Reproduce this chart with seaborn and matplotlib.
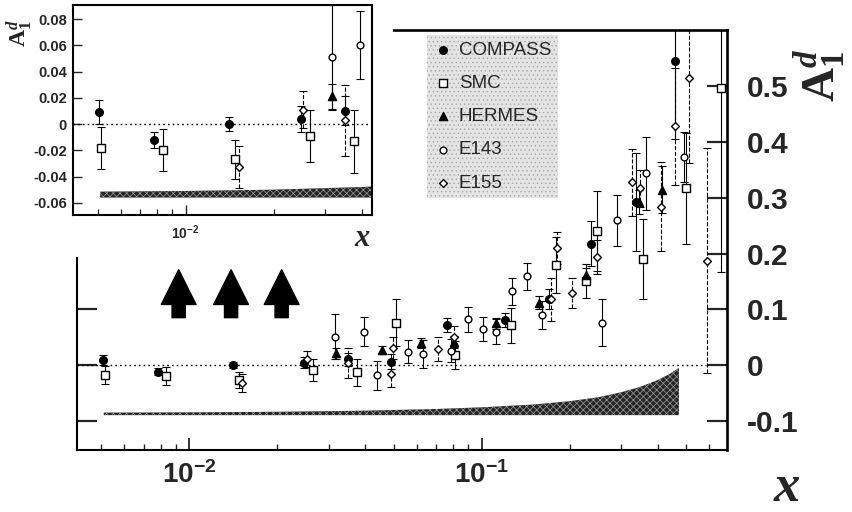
import numpy as np
import pandas as pd
import matplotlib
matplotlib.use("Agg")
import matplotlib.pyplot as plt
import seaborn as sns
from matplotlib.patches import Rectangle
from matplotlib.ticker import LogLocator, FixedLocator, FixedFormatter, NullFormatter, FuncFormatter

# ---------------- data ----------------
compass_x = [0.00505, 0.0078, 0.0141, 0.0247, 0.0350, 0.0489, 0.0763, 0.1205, 0.170, 0.237, 0.338, 0.460]
compass_y = [0.009, -0.012, 0.000, 0.004, 0.010, 0.006, 0.072, 0.081, 0.118, 0.218, 0.293, 0.545]
compass_e = [0.009, 0.006, 0.005, 0.010, 0.011, 0.013, 0.012, 0.013, 0.018, 0.040, 0.088, 0.140]

smc_x = [0.00514, 0.00835, 0.01476, 0.0265, 0.0376, 0.0511, 0.0808, 0.1264, 0.1797, 0.228, 0.2487, 0.3552, 0.4993, 0.658]
smc_y = [-0.018, -0.020, -0.027, -0.009, -0.013, 0.076, 0.018, 0.071, 0.180, 0.151, 0.240, 0.190, 0.317, 0.497]
smc_e = [0.016, 0.016, 0.015, 0.020, 0.024, 0.042, 0.025, 0.031, 0.050, 0.030, 0.072, 0.072, 0.100, 0.330]

hermes_x = [0.0317, 0.0457, 0.0618, 0.0803, 0.112, 0.157, 0.2277, 0.3464, 0.4139]
hermes_y = [0.021, 0.027, 0.039, 0.042, 0.075, 0.112, 0.162, 0.293, 0.315]
hermes_e = [0.0095, 0.007, 0.009, 0.010, 0.010, 0.012, 0.013, 0.022, 0.042]

e143_x = [0.0315, 0.0395, 0.0437, 0.0561, 0.0632, 0.0788, 0.0899, 0.1008, 0.112, 0.1274, 0.1433, 0.161, 0.259, 0.2893, 0.3636, 0.4928]
e143_y = [0.051, 0.060, -0.018, 0.024, 0.020, 0.026, 0.082, 0.065, 0.060, 0.132, 0.159, 0.090, 0.076, 0.260, 0.344, 0.374]
e143_e = [0.040, 0.026, 0.026, 0.021, 0.025, 0.020, 0.023, 0.022, 0.022, 0.025, 0.024, 0.025, 0.042, 0.046, 0.066, 0.045]

e155_x = [0.0152, 0.0252, 0.0349, 0.0491, 0.0498, 0.0711, 0.0804, 0.173, 0.181, 0.204, 0.2487, 0.3278, 0.3468, 0.4107, 0.4598, 0.5112, 0.5882]
e155_y = [-0.033, 0.011, 0.003, -0.017, 0.030, 0.029, 0.050, 0.118, 0.210, 0.129, 0.194, 0.328, 0.317, 0.284, 0.429, 0.515, 0.187]
e155_e = [0.016, 0.014, 0.027, 0.023, 0.020, 0.022, 0.020, 0.039, 0.028, 0.027, 0.030, 0.060, 0.033, 0.080, 0.105, 0.153, 0.202]

# systematic error band
sys_x = [0.0051, 0.01, 0.02, 0.04, 0.07, 0.1, 0.15, 0.2, 0.25, 0.3, 0.35, 0.4, 0.44, 0.473]
sys_err = [0.0045, 0.005, 0.006, 0.008, 0.011, 0.014, 0.019, 0.025, 0.032, 0.041, 0.051, 0.063, 0.074, 0.085]
sys_base_main = -0.09
sys_base_inset = -0.056

# annotation arrows
arrow_x = [0.0092, 0.0139, 0.0207]

main_yticks = [-0.1, 0.0, 0.1, 0.2, 0.3, 0.4, 0.5]
main_ylabels = ["-0.1", "0", "0.1", "0.2", "0.3", "0.4", "0.5"]
inset_yticks = [-0.06, -0.04, -0.02, 0.0, 0.02, 0.04, 0.06, 0.08]
inset_ylabels = ["-0.06", "-0.04", "-0.02", "0", "0.02", "0.04", "0.06", "0.08"]

experiments = ["COMPASS", "SMC", "HERMES", "E143", "E155"]
frames = []
for name, xs, ys, es in [("COMPASS", compass_x, compass_y, compass_e),
                         ("SMC", smc_x, smc_y, smc_e),
                         ("HERMES", hermes_x, hermes_y, hermes_e),
                         ("E143", e143_x, e143_y, e143_e),
                         ("E155", e155_x, e155_y, e155_e)]:
    frames.append(pd.DataFrame({"x": xs, "y": ys, "err": es, "exp": name}))
df = pd.concat(frames, ignore_index=True)

styles = {
    "COMPASS": dict(marker="o", fc="black", s=30, ls="-"),
    "SMC": dict(marker="s", fc="white", s=28, ls="-"),
    "HERMES": dict(marker="^", fc="black", s=34, ls="-"),
    "E143": dict(marker="o", fc="white", s=24, ls="-"),
    "E155": dict(marker="D", fc="white", s=16, ls="--"),
}

# ---------------- style ----------------
sns.set_theme(style="ticks")
plt.rcParams["font.family"] = ["Liberation Sans", "DejaVu Sans"]
plt.rcParams["font.weight"] = "bold"
plt.rcParams["mathtext.fontset"] = "custom"
plt.rcParams["mathtext.rm"] = "Liberation Serif"
plt.rcParams["mathtext.it"] = "Liberation Serif:italic"
plt.rcParams["mathtext.bf"] = "Liberation Sans:bold"
plt.rcParams["mathtext.sf"] = "Liberation Sans"
plt.rcParams["hatch.linewidth"] = 0.5

fig = plt.figure(figsize=(8.53, 5.12), dpi=100)
ax = fig.add_axes([0.0906, 0.1211, 0.7620, 0.8203])
ax.set_zorder(0)


def draw_points(axis, data, xmax=None):
    for name in experiments:
        sub = data[data["exp"] == name]
        if xmax is not None:
            sub = sub[sub["x"] < xmax]
        st = styles[name]
        eb = axis.errorbar(sub["x"], sub["y"], yerr=sub["err"], fmt="none",
                           ecolor="black", elinewidth=0.8, capsize=2.8,
                           capthick=0.8, zorder=3)
        for lc in eb[2]:
            lc.set_linestyle(st["ls"])
        sns.scatterplot(x=sub["x"], y=sub["y"], ax=axis, marker=st["marker"],
                        s=st["s"], color="black", facecolor=st["fc"],
                        edgecolor="black", linewidth=1.0, zorder=4,
                        label=name)


# systematic band
ax.fill_between(sys_x, sys_base_main, sys_base_main + np.array(sys_err),
                facecolor="#262626", edgecolor="#9a9a9a", hatch="xxxxx",
                linewidth=0, zorder=2)
ax.axhline(0, xmin=0, xmax=0.968, color="black", lw=1.0, ls=(0, (1.2, 2.2)), zorder=1)
draw_points(ax, df)

for xa in arrow_x:
    ax.annotate("", xy=(xa, 0.171), xytext=(xa, 0.085),
                arrowprops=dict(arrowstyle="simple,head_length=2.5,head_width=2.5,tail_width=0.95",
                                fc="black", ec="black", shrinkA=0, shrinkB=0,
                                mutation_scale=10))

ax.set_xscale("log")
ax.set_xlim(0.00414, 0.692)
ax.set_ylim(-0.1526, 0.6014)
ax.set_xlabel("")
ax.set_ylabel("")
ax.xaxis.set_major_locator(LogLocator(base=10))
ax.xaxis.set_minor_locator(LogLocator(base=10, subs=np.arange(2, 10)))
ax.xaxis.set_major_formatter(FuncFormatter(lambda v, p: r"$\mathbf{10^{%d}}$" % round(np.log10(v))))
ax.xaxis.set_minor_formatter(NullFormatter())
ax.yaxis.set_major_locator(FixedLocator(main_yticks))
ax.yaxis.set_major_formatter(FixedFormatter(main_ylabels))
ax.tick_params(axis="x", which="major", direction="in", length=8.5, width=1.3,
               labelsize=20, pad=8, top=False, bottom=True)
ax.tick_params(axis="x", which="minor", direction="in", length=4, width=1.0, top=False)
ax.tick_params(axis="y", which="major", direction="in", length=14.5, width=1.6,
               left=True, right=True, labelleft=False, labelright=True,
               labelsize=21.5, pad=14)
for side, lw in [("top", 1.9), ("right", 1.9), ("bottom", 1.5), ("left", 1.5)]:
    ax.spines[side].set_visible(True)
    ax.spines[side].set_linewidth(lw)
    ax.spines[side].set_color("black")

leg = ax.legend(loc="upper left", bbox_to_anchor=(427 / 853, 1 - 35 / 512),
                bbox_transform=fig.transFigure, borderaxespad=0, borderpad=0.35,
                handletextpad=0.35, handlelength=1.0, labelspacing=0.86,
                fancybox=False, frameon=True, prop={"size": 13.5, "weight": "normal"})
fr = leg.get_frame()
fr.set_facecolor("#e4e4e4")
fr.set_edgecolor("#a8a8a8")
fr.set_hatch("....")
fr.set_linewidth(0)
fr.set_alpha(1)

# white pad behind the inset
fig.add_artist(Rectangle((0, 1 - 257 / 512), 393 / 853, 257 / 512,
                         transform=fig.transFigure, facecolor="white",
                         edgecolor="none", zorder=2))

# ---------------- inset ----------------
axi = fig.add_axes([0.0852, 0.5801, 0.3505, 0.4102])
axi.set_zorder(3)
axi.fill_between(sys_x, sys_base_inset, sys_base_inset + np.array(sys_err),
                 facecolor="#262626", edgecolor="#9a9a9a", hatch="xxxxx",
                 linewidth=0, zorder=2)
axi.axhline(0, color="black", lw=1.0, ls=(0, (1.2, 2.2)), zorder=1)
draw_points(axi, df, xmax=0.043)
if axi.get_legend() is not None:
    axi.get_legend().remove()
axi.set_xscale("log")
axi.set_xlim(0.00411, 0.0432)
axi.set_ylim(-0.0693, 0.0907)
axi.set_xlabel("")
axi.set_ylabel("")
axi.xaxis.set_major_locator(LogLocator(base=10))
axi.xaxis.set_minor_locator(LogLocator(base=10, subs=np.arange(2, 10)))
axi.xaxis.set_major_formatter(FuncFormatter(lambda v, p: r"$\mathsf{10^{%d}}$" % round(np.log10(v))))
axi.xaxis.set_minor_formatter(NullFormatter())
axi.yaxis.set_major_locator(FixedLocator(inset_yticks))
axi.yaxis.set_major_formatter(FixedFormatter(inset_ylabels))
axi.tick_params(axis="x", which="major", direction="in", length=7, width=1.0,
                labelsize=10, pad=6)
axi.tick_params(axis="x", which="minor", direction="in", length=4, width=0.9)
axi.tick_params(axis="y", which="major", direction="in", length=6.5, width=1.0,
                labelsize=10.5, pad=4)
for side in ["top", "right", "bottom", "left"]:
    axi.spines[side].set_linewidth(1.5)
    axi.spines[side].set_color("black")

# ---------------- labels ----------------
fig.text(820 / 853, 1 - 75 / 512, r"$\mathrm{A}_{\mathrm{1}}^{\mathit{d}}$",
         rotation=90, fontsize=34, ha="center", va="center")
fig.text(787 / 853, 1 - 488 / 512, "x", fontfamily="Liberation Serif",
         style="italic", weight="bold", fontsize=38, ha="center", va="center")
fig.text(20 / 853, 1 - 33 / 512, r"$\mathrm{A}_{\mathrm{1}}^{\mathit{d}}$",
         rotation=90, fontsize=17, ha="center", va="center")
fig.text(362 / 853, 1 - 239 / 512, "x", fontfamily="Liberation Serif",
         style="italic", weight="bold", fontsize=22, ha="center", va="center")

fig.savefig("out.png", dpi=100)
